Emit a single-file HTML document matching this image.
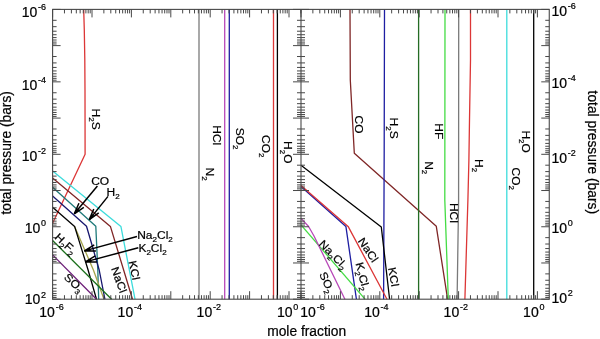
<!DOCTYPE html><html><head><meta charset="utf-8"><style>html,body{margin:0;padding:0;background:#fff;overflow:hidden}svg{display:block;filter:blur(0.3px)}</style></head><body><svg width="600" height="339" viewBox="0 0 600 339" font-family='"Liberation Sans", sans-serif' fill="#000">
<rect width="600" height="339" fill="#fff"/>
<polyline points="199.00,9.40 199.00,299.20" fill="none" stroke="#7a7a7a" stroke-width="1.3" stroke-linejoin="round"/>
<polyline points="224.70,9.40 224.70,299.20" fill="none" stroke="#b848b8" stroke-width="1.3" stroke-linejoin="round"/>
<polyline points="229.30,9.40 229.30,299.20" fill="none" stroke="#1e1ea2" stroke-width="1.3" stroke-linejoin="round"/>
<polyline points="273.50,9.40 273.50,299.20" fill="none" stroke="#dc3636" stroke-width="1.3" stroke-linejoin="round"/>
<polyline points="277.40,9.40 277.40,299.20" fill="none" stroke="#000" stroke-width="1.3" stroke-linejoin="round"/>
<polyline points="83.70,9.40 84.30,30.00 84.80,60.00 85.00,90.00 85.10,154.20 52.60,223.20" fill="none" stroke="#dc3636" stroke-width="1.3" stroke-linejoin="round"/>
<polyline points="52.60,170.90 120.90,226.40 135.00,299.20" fill="none" stroke="#3cdcdc" stroke-width="1.3" stroke-linejoin="round"/>
<polyline points="52.60,177.90 110.40,226.40 132.50,299.20" fill="none" stroke="#7f2626" stroke-width="1.3" stroke-linejoin="round"/>
<polyline points="52.60,187.30 95.80,226.20 97.80,270.00 98.70,299.20" fill="none" stroke="#1f7a7a" stroke-width="1.3" stroke-linejoin="round"/>
<polyline points="74.60,226.40 93.40,270.00 104.00,299.20" fill="none" stroke="#a4a44c" stroke-width="1.3" stroke-linejoin="round"/>
<polyline points="52.60,196.00 86.50,226.20 92.00,245.00 99.20,270.00 104.90,299.20" fill="none" stroke="#16166e" stroke-width="1.3" stroke-linejoin="round"/>
<polyline points="52.60,207.30 74.60,226.40 88.10,270.00 96.50,299.20" fill="none" stroke="#000" stroke-width="1.3" stroke-linejoin="round"/>
<polyline points="52.60,240.50 111.60,299.20" fill="none" stroke="#1a701a" stroke-width="1.3" stroke-linejoin="round"/>
<polyline points="52.60,254.90 96.50,299.20" fill="none" stroke="#6c1c78" stroke-width="1.3" stroke-linejoin="round"/>
<polyline points="350.00,9.40 350.30,80.00 354.30,153.30 436.30,226.30 447.60,299.20" fill="none" stroke="#7f2626" stroke-width="1.3" stroke-linejoin="round"/>
<polyline points="384.50,9.40 384.20,150.00 383.60,299.20" fill="none" stroke="#1e1ea2" stroke-width="1.3" stroke-linejoin="round"/>
<polyline points="418.60,9.40 418.60,299.20" fill="none" stroke="#246c24" stroke-width="1.3" stroke-linejoin="round"/>
<polyline points="445.00,9.40 444.80,200.00 448.30,299.20" fill="none" stroke="#44dc44" stroke-width="1.3" stroke-linejoin="round"/>
<polyline points="458.70,9.40 458.60,200.00 457.10,299.20" fill="none" stroke="#7a7a7a" stroke-width="1.3" stroke-linejoin="round"/>
<polyline points="470.50,9.40 470.50,60.00 469.50,120.00 468.90,160.00 467.90,200.00 464.90,299.20" fill="none" stroke="#dc3636" stroke-width="1.3" stroke-linejoin="round"/>
<polyline points="506.80,9.40 506.80,299.20" fill="none" stroke="#3cdcdc" stroke-width="1.3" stroke-linejoin="round"/>
<polyline points="533.70,9.40 533.70,299.20" fill="none" stroke="#000" stroke-width="1.3" stroke-linejoin="round"/>
<polyline points="301.00,165.30 381.30,227.00 389.60,299.20" fill="none" stroke="#000" stroke-width="1.3" stroke-linejoin="round"/>
<polyline points="301.00,186.60 345.90,226.40 356.40,299.20" fill="none" stroke="#1e1ea2" stroke-width="1.3" stroke-linejoin="round"/>
<polyline points="301.00,185.40 348.10,226.40 387.00,299.20" fill="none" stroke="#dc3636" stroke-width="1.3" stroke-linejoin="round"/>
<polyline points="301.00,224.80 365.00,299.20" fill="none" stroke="#44dc44" stroke-width="1.3" stroke-linejoin="round"/>
<polyline points="301.00,218.40 308.60,226.50 314.00,236.00 344.90,299.20" fill="none" stroke="#b848b8" stroke-width="1.3" stroke-linejoin="round"/>
<line x1="97.40" y1="186.00" x2="74.30" y2="213.80" stroke="#000" stroke-width="1.5"/>
<line x1="74.30" y1="213.80" x2="78.93" y2="203.27" stroke="#000" stroke-width="1.5"/>
<line x1="74.30" y1="213.80" x2="83.80" y2="207.32" stroke="#000" stroke-width="1.5"/>
<polygon points="74.30,213.80 76.84,208.01 79.53,210.24" fill="#000"/>
<line x1="108.00" y1="196.40" x2="89.30" y2="219.60" stroke="#000" stroke-width="1.5"/>
<line x1="89.30" y1="219.60" x2="93.77" y2="209.00" stroke="#000" stroke-width="1.5"/>
<line x1="89.30" y1="219.60" x2="98.71" y2="212.98" stroke="#000" stroke-width="1.5"/>
<polygon points="89.30,219.60 91.76,213.77 94.47,215.96" fill="#000"/>
<line x1="137.00" y1="236.50" x2="84.40" y2="250.90" stroke="#000" stroke-width="1.5"/>
<line x1="84.40" y1="250.90" x2="94.23" y2="244.92" stroke="#000" stroke-width="1.5"/>
<line x1="84.40" y1="250.90" x2="95.90" y2="251.04" stroke="#000" stroke-width="1.5"/>
<polygon points="84.40,250.90 89.80,247.61 90.72,250.98" fill="#000"/>
<line x1="138.30" y1="247.70" x2="85.40" y2="261.90" stroke="#000" stroke-width="1.5"/>
<line x1="85.40" y1="261.90" x2="95.25" y2="255.97" stroke="#000" stroke-width="1.5"/>
<line x1="85.40" y1="261.90" x2="96.90" y2="262.10" stroke="#000" stroke-width="1.5"/>
<polygon points="85.40,261.90 90.82,258.64 91.72,262.01" fill="#000"/>
<line x1="52.60" y1="299.20" x2="52.60" y2="291.20" stroke="#484848" stroke-width="1"/>
<line x1="52.60" y1="9.40" x2="52.60" y2="17.40" stroke="#484848" stroke-width="1"/>
<line x1="64.46" y1="299.20" x2="64.46" y2="295.20" stroke="#484848" stroke-width="1"/>
<line x1="64.46" y1="9.40" x2="64.46" y2="13.40" stroke="#484848" stroke-width="1"/>
<line x1="71.40" y1="299.20" x2="71.40" y2="295.20" stroke="#484848" stroke-width="1"/>
<line x1="71.40" y1="9.40" x2="71.40" y2="13.40" stroke="#484848" stroke-width="1"/>
<line x1="76.32" y1="299.20" x2="76.32" y2="295.20" stroke="#484848" stroke-width="1"/>
<line x1="76.32" y1="9.40" x2="76.32" y2="13.40" stroke="#484848" stroke-width="1"/>
<line x1="80.14" y1="299.20" x2="80.14" y2="295.20" stroke="#484848" stroke-width="1"/>
<line x1="80.14" y1="9.40" x2="80.14" y2="13.40" stroke="#484848" stroke-width="1"/>
<line x1="83.26" y1="299.20" x2="83.26" y2="295.20" stroke="#484848" stroke-width="1"/>
<line x1="83.26" y1="9.40" x2="83.26" y2="13.40" stroke="#484848" stroke-width="1"/>
<line x1="85.90" y1="299.20" x2="85.90" y2="295.20" stroke="#484848" stroke-width="1"/>
<line x1="85.90" y1="9.40" x2="85.90" y2="13.40" stroke="#484848" stroke-width="1"/>
<line x1="88.18" y1="299.20" x2="88.18" y2="295.20" stroke="#484848" stroke-width="1"/>
<line x1="88.18" y1="9.40" x2="88.18" y2="13.40" stroke="#484848" stroke-width="1"/>
<line x1="90.20" y1="299.20" x2="90.20" y2="295.20" stroke="#484848" stroke-width="1"/>
<line x1="90.20" y1="9.40" x2="90.20" y2="13.40" stroke="#484848" stroke-width="1"/>
<line x1="92.00" y1="299.20" x2="92.00" y2="291.20" stroke="#484848" stroke-width="1"/>
<line x1="92.00" y1="9.40" x2="92.00" y2="17.40" stroke="#484848" stroke-width="1"/>
<line x1="103.86" y1="299.20" x2="103.86" y2="295.20" stroke="#484848" stroke-width="1"/>
<line x1="103.86" y1="9.40" x2="103.86" y2="13.40" stroke="#484848" stroke-width="1"/>
<line x1="110.80" y1="299.20" x2="110.80" y2="295.20" stroke="#484848" stroke-width="1"/>
<line x1="110.80" y1="9.40" x2="110.80" y2="13.40" stroke="#484848" stroke-width="1"/>
<line x1="115.72" y1="299.20" x2="115.72" y2="295.20" stroke="#484848" stroke-width="1"/>
<line x1="115.72" y1="9.40" x2="115.72" y2="13.40" stroke="#484848" stroke-width="1"/>
<line x1="119.54" y1="299.20" x2="119.54" y2="295.20" stroke="#484848" stroke-width="1"/>
<line x1="119.54" y1="9.40" x2="119.54" y2="13.40" stroke="#484848" stroke-width="1"/>
<line x1="122.66" y1="299.20" x2="122.66" y2="295.20" stroke="#484848" stroke-width="1"/>
<line x1="122.66" y1="9.40" x2="122.66" y2="13.40" stroke="#484848" stroke-width="1"/>
<line x1="125.30" y1="299.20" x2="125.30" y2="295.20" stroke="#484848" stroke-width="1"/>
<line x1="125.30" y1="9.40" x2="125.30" y2="13.40" stroke="#484848" stroke-width="1"/>
<line x1="127.58" y1="299.20" x2="127.58" y2="295.20" stroke="#484848" stroke-width="1"/>
<line x1="127.58" y1="9.40" x2="127.58" y2="13.40" stroke="#484848" stroke-width="1"/>
<line x1="129.60" y1="299.20" x2="129.60" y2="295.20" stroke="#484848" stroke-width="1"/>
<line x1="129.60" y1="9.40" x2="129.60" y2="13.40" stroke="#484848" stroke-width="1"/>
<line x1="131.40" y1="299.20" x2="131.40" y2="291.20" stroke="#484848" stroke-width="1"/>
<line x1="131.40" y1="9.40" x2="131.40" y2="17.40" stroke="#484848" stroke-width="1"/>
<line x1="143.26" y1="299.20" x2="143.26" y2="295.20" stroke="#484848" stroke-width="1"/>
<line x1="143.26" y1="9.40" x2="143.26" y2="13.40" stroke="#484848" stroke-width="1"/>
<line x1="150.20" y1="299.20" x2="150.20" y2="295.20" stroke="#484848" stroke-width="1"/>
<line x1="150.20" y1="9.40" x2="150.20" y2="13.40" stroke="#484848" stroke-width="1"/>
<line x1="155.12" y1="299.20" x2="155.12" y2="295.20" stroke="#484848" stroke-width="1"/>
<line x1="155.12" y1="9.40" x2="155.12" y2="13.40" stroke="#484848" stroke-width="1"/>
<line x1="158.94" y1="299.20" x2="158.94" y2="295.20" stroke="#484848" stroke-width="1"/>
<line x1="158.94" y1="9.40" x2="158.94" y2="13.40" stroke="#484848" stroke-width="1"/>
<line x1="162.06" y1="299.20" x2="162.06" y2="295.20" stroke="#484848" stroke-width="1"/>
<line x1="162.06" y1="9.40" x2="162.06" y2="13.40" stroke="#484848" stroke-width="1"/>
<line x1="164.70" y1="299.20" x2="164.70" y2="295.20" stroke="#484848" stroke-width="1"/>
<line x1="164.70" y1="9.40" x2="164.70" y2="13.40" stroke="#484848" stroke-width="1"/>
<line x1="166.98" y1="299.20" x2="166.98" y2="295.20" stroke="#484848" stroke-width="1"/>
<line x1="166.98" y1="9.40" x2="166.98" y2="13.40" stroke="#484848" stroke-width="1"/>
<line x1="169.00" y1="299.20" x2="169.00" y2="295.20" stroke="#484848" stroke-width="1"/>
<line x1="169.00" y1="9.40" x2="169.00" y2="13.40" stroke="#484848" stroke-width="1"/>
<line x1="170.80" y1="299.20" x2="170.80" y2="291.20" stroke="#484848" stroke-width="1"/>
<line x1="170.80" y1="9.40" x2="170.80" y2="17.40" stroke="#484848" stroke-width="1"/>
<line x1="182.66" y1="299.20" x2="182.66" y2="295.20" stroke="#484848" stroke-width="1"/>
<line x1="182.66" y1="9.40" x2="182.66" y2="13.40" stroke="#484848" stroke-width="1"/>
<line x1="189.60" y1="299.20" x2="189.60" y2="295.20" stroke="#484848" stroke-width="1"/>
<line x1="189.60" y1="9.40" x2="189.60" y2="13.40" stroke="#484848" stroke-width="1"/>
<line x1="194.52" y1="299.20" x2="194.52" y2="295.20" stroke="#484848" stroke-width="1"/>
<line x1="194.52" y1="9.40" x2="194.52" y2="13.40" stroke="#484848" stroke-width="1"/>
<line x1="198.34" y1="299.20" x2="198.34" y2="295.20" stroke="#484848" stroke-width="1"/>
<line x1="198.34" y1="9.40" x2="198.34" y2="13.40" stroke="#484848" stroke-width="1"/>
<line x1="201.46" y1="299.20" x2="201.46" y2="295.20" stroke="#484848" stroke-width="1"/>
<line x1="201.46" y1="9.40" x2="201.46" y2="13.40" stroke="#484848" stroke-width="1"/>
<line x1="204.10" y1="299.20" x2="204.10" y2="295.20" stroke="#484848" stroke-width="1"/>
<line x1="204.10" y1="9.40" x2="204.10" y2="13.40" stroke="#484848" stroke-width="1"/>
<line x1="206.38" y1="299.20" x2="206.38" y2="295.20" stroke="#484848" stroke-width="1"/>
<line x1="206.38" y1="9.40" x2="206.38" y2="13.40" stroke="#484848" stroke-width="1"/>
<line x1="208.40" y1="299.20" x2="208.40" y2="295.20" stroke="#484848" stroke-width="1"/>
<line x1="208.40" y1="9.40" x2="208.40" y2="13.40" stroke="#484848" stroke-width="1"/>
<line x1="210.20" y1="299.20" x2="210.20" y2="291.20" stroke="#484848" stroke-width="1"/>
<line x1="210.20" y1="9.40" x2="210.20" y2="17.40" stroke="#484848" stroke-width="1"/>
<line x1="222.06" y1="299.20" x2="222.06" y2="295.20" stroke="#484848" stroke-width="1"/>
<line x1="222.06" y1="9.40" x2="222.06" y2="13.40" stroke="#484848" stroke-width="1"/>
<line x1="229.00" y1="299.20" x2="229.00" y2="295.20" stroke="#484848" stroke-width="1"/>
<line x1="229.00" y1="9.40" x2="229.00" y2="13.40" stroke="#484848" stroke-width="1"/>
<line x1="233.92" y1="299.20" x2="233.92" y2="295.20" stroke="#484848" stroke-width="1"/>
<line x1="233.92" y1="9.40" x2="233.92" y2="13.40" stroke="#484848" stroke-width="1"/>
<line x1="237.74" y1="299.20" x2="237.74" y2="295.20" stroke="#484848" stroke-width="1"/>
<line x1="237.74" y1="9.40" x2="237.74" y2="13.40" stroke="#484848" stroke-width="1"/>
<line x1="240.86" y1="299.20" x2="240.86" y2="295.20" stroke="#484848" stroke-width="1"/>
<line x1="240.86" y1="9.40" x2="240.86" y2="13.40" stroke="#484848" stroke-width="1"/>
<line x1="243.50" y1="299.20" x2="243.50" y2="295.20" stroke="#484848" stroke-width="1"/>
<line x1="243.50" y1="9.40" x2="243.50" y2="13.40" stroke="#484848" stroke-width="1"/>
<line x1="245.78" y1="299.20" x2="245.78" y2="295.20" stroke="#484848" stroke-width="1"/>
<line x1="245.78" y1="9.40" x2="245.78" y2="13.40" stroke="#484848" stroke-width="1"/>
<line x1="247.80" y1="299.20" x2="247.80" y2="295.20" stroke="#484848" stroke-width="1"/>
<line x1="247.80" y1="9.40" x2="247.80" y2="13.40" stroke="#484848" stroke-width="1"/>
<line x1="249.60" y1="299.20" x2="249.60" y2="291.20" stroke="#484848" stroke-width="1"/>
<line x1="249.60" y1="9.40" x2="249.60" y2="17.40" stroke="#484848" stroke-width="1"/>
<line x1="261.46" y1="299.20" x2="261.46" y2="295.20" stroke="#484848" stroke-width="1"/>
<line x1="261.46" y1="9.40" x2="261.46" y2="13.40" stroke="#484848" stroke-width="1"/>
<line x1="268.40" y1="299.20" x2="268.40" y2="295.20" stroke="#484848" stroke-width="1"/>
<line x1="268.40" y1="9.40" x2="268.40" y2="13.40" stroke="#484848" stroke-width="1"/>
<line x1="273.32" y1="299.20" x2="273.32" y2="295.20" stroke="#484848" stroke-width="1"/>
<line x1="273.32" y1="9.40" x2="273.32" y2="13.40" stroke="#484848" stroke-width="1"/>
<line x1="277.14" y1="299.20" x2="277.14" y2="295.20" stroke="#484848" stroke-width="1"/>
<line x1="277.14" y1="9.40" x2="277.14" y2="13.40" stroke="#484848" stroke-width="1"/>
<line x1="280.26" y1="299.20" x2="280.26" y2="295.20" stroke="#484848" stroke-width="1"/>
<line x1="280.26" y1="9.40" x2="280.26" y2="13.40" stroke="#484848" stroke-width="1"/>
<line x1="282.90" y1="299.20" x2="282.90" y2="295.20" stroke="#484848" stroke-width="1"/>
<line x1="282.90" y1="9.40" x2="282.90" y2="13.40" stroke="#484848" stroke-width="1"/>
<line x1="285.18" y1="299.20" x2="285.18" y2="295.20" stroke="#484848" stroke-width="1"/>
<line x1="285.18" y1="9.40" x2="285.18" y2="13.40" stroke="#484848" stroke-width="1"/>
<line x1="287.20" y1="299.20" x2="287.20" y2="295.20" stroke="#484848" stroke-width="1"/>
<line x1="287.20" y1="9.40" x2="287.20" y2="13.40" stroke="#484848" stroke-width="1"/>
<line x1="289.00" y1="299.20" x2="289.00" y2="291.20" stroke="#484848" stroke-width="1"/>
<line x1="289.00" y1="9.40" x2="289.00" y2="17.40" stroke="#484848" stroke-width="1"/>
<line x1="300.86" y1="299.20" x2="300.86" y2="295.20" stroke="#484848" stroke-width="1"/>
<line x1="300.86" y1="9.40" x2="300.86" y2="13.40" stroke="#484848" stroke-width="1"/>
<line x1="301.00" y1="299.20" x2="301.00" y2="291.20" stroke="#484848" stroke-width="1"/>
<line x1="301.00" y1="9.40" x2="301.00" y2="17.40" stroke="#484848" stroke-width="1"/>
<line x1="312.86" y1="299.20" x2="312.86" y2="295.20" stroke="#484848" stroke-width="1"/>
<line x1="312.86" y1="9.40" x2="312.86" y2="13.40" stroke="#484848" stroke-width="1"/>
<line x1="319.80" y1="299.20" x2="319.80" y2="295.20" stroke="#484848" stroke-width="1"/>
<line x1="319.80" y1="9.40" x2="319.80" y2="13.40" stroke="#484848" stroke-width="1"/>
<line x1="324.72" y1="299.20" x2="324.72" y2="295.20" stroke="#484848" stroke-width="1"/>
<line x1="324.72" y1="9.40" x2="324.72" y2="13.40" stroke="#484848" stroke-width="1"/>
<line x1="328.54" y1="299.20" x2="328.54" y2="295.20" stroke="#484848" stroke-width="1"/>
<line x1="328.54" y1="9.40" x2="328.54" y2="13.40" stroke="#484848" stroke-width="1"/>
<line x1="331.66" y1="299.20" x2="331.66" y2="295.20" stroke="#484848" stroke-width="1"/>
<line x1="331.66" y1="9.40" x2="331.66" y2="13.40" stroke="#484848" stroke-width="1"/>
<line x1="334.30" y1="299.20" x2="334.30" y2="295.20" stroke="#484848" stroke-width="1"/>
<line x1="334.30" y1="9.40" x2="334.30" y2="13.40" stroke="#484848" stroke-width="1"/>
<line x1="336.58" y1="299.20" x2="336.58" y2="295.20" stroke="#484848" stroke-width="1"/>
<line x1="336.58" y1="9.40" x2="336.58" y2="13.40" stroke="#484848" stroke-width="1"/>
<line x1="338.60" y1="299.20" x2="338.60" y2="295.20" stroke="#484848" stroke-width="1"/>
<line x1="338.60" y1="9.40" x2="338.60" y2="13.40" stroke="#484848" stroke-width="1"/>
<line x1="340.40" y1="299.20" x2="340.40" y2="291.20" stroke="#484848" stroke-width="1"/>
<line x1="340.40" y1="9.40" x2="340.40" y2="17.40" stroke="#484848" stroke-width="1"/>
<line x1="352.26" y1="299.20" x2="352.26" y2="295.20" stroke="#484848" stroke-width="1"/>
<line x1="352.26" y1="9.40" x2="352.26" y2="13.40" stroke="#484848" stroke-width="1"/>
<line x1="359.20" y1="299.20" x2="359.20" y2="295.20" stroke="#484848" stroke-width="1"/>
<line x1="359.20" y1="9.40" x2="359.20" y2="13.40" stroke="#484848" stroke-width="1"/>
<line x1="364.12" y1="299.20" x2="364.12" y2="295.20" stroke="#484848" stroke-width="1"/>
<line x1="364.12" y1="9.40" x2="364.12" y2="13.40" stroke="#484848" stroke-width="1"/>
<line x1="367.94" y1="299.20" x2="367.94" y2="295.20" stroke="#484848" stroke-width="1"/>
<line x1="367.94" y1="9.40" x2="367.94" y2="13.40" stroke="#484848" stroke-width="1"/>
<line x1="371.06" y1="299.20" x2="371.06" y2="295.20" stroke="#484848" stroke-width="1"/>
<line x1="371.06" y1="9.40" x2="371.06" y2="13.40" stroke="#484848" stroke-width="1"/>
<line x1="373.70" y1="299.20" x2="373.70" y2="295.20" stroke="#484848" stroke-width="1"/>
<line x1="373.70" y1="9.40" x2="373.70" y2="13.40" stroke="#484848" stroke-width="1"/>
<line x1="375.98" y1="299.20" x2="375.98" y2="295.20" stroke="#484848" stroke-width="1"/>
<line x1="375.98" y1="9.40" x2="375.98" y2="13.40" stroke="#484848" stroke-width="1"/>
<line x1="378.00" y1="299.20" x2="378.00" y2="295.20" stroke="#484848" stroke-width="1"/>
<line x1="378.00" y1="9.40" x2="378.00" y2="13.40" stroke="#484848" stroke-width="1"/>
<line x1="379.80" y1="299.20" x2="379.80" y2="291.20" stroke="#484848" stroke-width="1"/>
<line x1="379.80" y1="9.40" x2="379.80" y2="17.40" stroke="#484848" stroke-width="1"/>
<line x1="391.66" y1="299.20" x2="391.66" y2="295.20" stroke="#484848" stroke-width="1"/>
<line x1="391.66" y1="9.40" x2="391.66" y2="13.40" stroke="#484848" stroke-width="1"/>
<line x1="398.60" y1="299.20" x2="398.60" y2="295.20" stroke="#484848" stroke-width="1"/>
<line x1="398.60" y1="9.40" x2="398.60" y2="13.40" stroke="#484848" stroke-width="1"/>
<line x1="403.52" y1="299.20" x2="403.52" y2="295.20" stroke="#484848" stroke-width="1"/>
<line x1="403.52" y1="9.40" x2="403.52" y2="13.40" stroke="#484848" stroke-width="1"/>
<line x1="407.34" y1="299.20" x2="407.34" y2="295.20" stroke="#484848" stroke-width="1"/>
<line x1="407.34" y1="9.40" x2="407.34" y2="13.40" stroke="#484848" stroke-width="1"/>
<line x1="410.46" y1="299.20" x2="410.46" y2="295.20" stroke="#484848" stroke-width="1"/>
<line x1="410.46" y1="9.40" x2="410.46" y2="13.40" stroke="#484848" stroke-width="1"/>
<line x1="413.10" y1="299.20" x2="413.10" y2="295.20" stroke="#484848" stroke-width="1"/>
<line x1="413.10" y1="9.40" x2="413.10" y2="13.40" stroke="#484848" stroke-width="1"/>
<line x1="415.38" y1="299.20" x2="415.38" y2="295.20" stroke="#484848" stroke-width="1"/>
<line x1="415.38" y1="9.40" x2="415.38" y2="13.40" stroke="#484848" stroke-width="1"/>
<line x1="417.40" y1="299.20" x2="417.40" y2="295.20" stroke="#484848" stroke-width="1"/>
<line x1="417.40" y1="9.40" x2="417.40" y2="13.40" stroke="#484848" stroke-width="1"/>
<line x1="419.20" y1="299.20" x2="419.20" y2="291.20" stroke="#484848" stroke-width="1"/>
<line x1="419.20" y1="9.40" x2="419.20" y2="17.40" stroke="#484848" stroke-width="1"/>
<line x1="431.06" y1="299.20" x2="431.06" y2="295.20" stroke="#484848" stroke-width="1"/>
<line x1="431.06" y1="9.40" x2="431.06" y2="13.40" stroke="#484848" stroke-width="1"/>
<line x1="438.00" y1="299.20" x2="438.00" y2="295.20" stroke="#484848" stroke-width="1"/>
<line x1="438.00" y1="9.40" x2="438.00" y2="13.40" stroke="#484848" stroke-width="1"/>
<line x1="442.92" y1="299.20" x2="442.92" y2="295.20" stroke="#484848" stroke-width="1"/>
<line x1="442.92" y1="9.40" x2="442.92" y2="13.40" stroke="#484848" stroke-width="1"/>
<line x1="446.74" y1="299.20" x2="446.74" y2="295.20" stroke="#484848" stroke-width="1"/>
<line x1="446.74" y1="9.40" x2="446.74" y2="13.40" stroke="#484848" stroke-width="1"/>
<line x1="449.86" y1="299.20" x2="449.86" y2="295.20" stroke="#484848" stroke-width="1"/>
<line x1="449.86" y1="9.40" x2="449.86" y2="13.40" stroke="#484848" stroke-width="1"/>
<line x1="452.50" y1="299.20" x2="452.50" y2="295.20" stroke="#484848" stroke-width="1"/>
<line x1="452.50" y1="9.40" x2="452.50" y2="13.40" stroke="#484848" stroke-width="1"/>
<line x1="454.78" y1="299.20" x2="454.78" y2="295.20" stroke="#484848" stroke-width="1"/>
<line x1="454.78" y1="9.40" x2="454.78" y2="13.40" stroke="#484848" stroke-width="1"/>
<line x1="456.80" y1="299.20" x2="456.80" y2="295.20" stroke="#484848" stroke-width="1"/>
<line x1="456.80" y1="9.40" x2="456.80" y2="13.40" stroke="#484848" stroke-width="1"/>
<line x1="458.60" y1="299.20" x2="458.60" y2="291.20" stroke="#484848" stroke-width="1"/>
<line x1="458.60" y1="9.40" x2="458.60" y2="17.40" stroke="#484848" stroke-width="1"/>
<line x1="470.46" y1="299.20" x2="470.46" y2="295.20" stroke="#484848" stroke-width="1"/>
<line x1="470.46" y1="9.40" x2="470.46" y2="13.40" stroke="#484848" stroke-width="1"/>
<line x1="477.40" y1="299.20" x2="477.40" y2="295.20" stroke="#484848" stroke-width="1"/>
<line x1="477.40" y1="9.40" x2="477.40" y2="13.40" stroke="#484848" stroke-width="1"/>
<line x1="482.32" y1="299.20" x2="482.32" y2="295.20" stroke="#484848" stroke-width="1"/>
<line x1="482.32" y1="9.40" x2="482.32" y2="13.40" stroke="#484848" stroke-width="1"/>
<line x1="486.14" y1="299.20" x2="486.14" y2="295.20" stroke="#484848" stroke-width="1"/>
<line x1="486.14" y1="9.40" x2="486.14" y2="13.40" stroke="#484848" stroke-width="1"/>
<line x1="489.26" y1="299.20" x2="489.26" y2="295.20" stroke="#484848" stroke-width="1"/>
<line x1="489.26" y1="9.40" x2="489.26" y2="13.40" stroke="#484848" stroke-width="1"/>
<line x1="491.90" y1="299.20" x2="491.90" y2="295.20" stroke="#484848" stroke-width="1"/>
<line x1="491.90" y1="9.40" x2="491.90" y2="13.40" stroke="#484848" stroke-width="1"/>
<line x1="494.18" y1="299.20" x2="494.18" y2="295.20" stroke="#484848" stroke-width="1"/>
<line x1="494.18" y1="9.40" x2="494.18" y2="13.40" stroke="#484848" stroke-width="1"/>
<line x1="496.20" y1="299.20" x2="496.20" y2="295.20" stroke="#484848" stroke-width="1"/>
<line x1="496.20" y1="9.40" x2="496.20" y2="13.40" stroke="#484848" stroke-width="1"/>
<line x1="498.00" y1="299.20" x2="498.00" y2="291.20" stroke="#484848" stroke-width="1"/>
<line x1="498.00" y1="9.40" x2="498.00" y2="17.40" stroke="#484848" stroke-width="1"/>
<line x1="509.86" y1="299.20" x2="509.86" y2="295.20" stroke="#484848" stroke-width="1"/>
<line x1="509.86" y1="9.40" x2="509.86" y2="13.40" stroke="#484848" stroke-width="1"/>
<line x1="516.80" y1="299.20" x2="516.80" y2="295.20" stroke="#484848" stroke-width="1"/>
<line x1="516.80" y1="9.40" x2="516.80" y2="13.40" stroke="#484848" stroke-width="1"/>
<line x1="521.72" y1="299.20" x2="521.72" y2="295.20" stroke="#484848" stroke-width="1"/>
<line x1="521.72" y1="9.40" x2="521.72" y2="13.40" stroke="#484848" stroke-width="1"/>
<line x1="525.54" y1="299.20" x2="525.54" y2="295.20" stroke="#484848" stroke-width="1"/>
<line x1="525.54" y1="9.40" x2="525.54" y2="13.40" stroke="#484848" stroke-width="1"/>
<line x1="528.66" y1="299.20" x2="528.66" y2="295.20" stroke="#484848" stroke-width="1"/>
<line x1="528.66" y1="9.40" x2="528.66" y2="13.40" stroke="#484848" stroke-width="1"/>
<line x1="531.30" y1="299.20" x2="531.30" y2="295.20" stroke="#484848" stroke-width="1"/>
<line x1="531.30" y1="9.40" x2="531.30" y2="13.40" stroke="#484848" stroke-width="1"/>
<line x1="533.58" y1="299.20" x2="533.58" y2="295.20" stroke="#484848" stroke-width="1"/>
<line x1="533.58" y1="9.40" x2="533.58" y2="13.40" stroke="#484848" stroke-width="1"/>
<line x1="535.60" y1="299.20" x2="535.60" y2="295.20" stroke="#484848" stroke-width="1"/>
<line x1="535.60" y1="9.40" x2="535.60" y2="13.40" stroke="#484848" stroke-width="1"/>
<line x1="537.40" y1="299.20" x2="537.40" y2="291.20" stroke="#484848" stroke-width="1"/>
<line x1="537.40" y1="9.40" x2="537.40" y2="17.40" stroke="#484848" stroke-width="1"/>
<line x1="52.60" y1="9.40" x2="60.60" y2="9.40" stroke="#484848" stroke-width="1"/>
<line x1="52.60" y1="20.30" x2="56.60" y2="20.30" stroke="#484848" stroke-width="1"/>
<line x1="52.60" y1="26.68" x2="56.60" y2="26.68" stroke="#484848" stroke-width="1"/>
<line x1="52.60" y1="31.21" x2="56.60" y2="31.21" stroke="#484848" stroke-width="1"/>
<line x1="52.60" y1="34.72" x2="56.60" y2="34.72" stroke="#484848" stroke-width="1"/>
<line x1="52.60" y1="37.59" x2="56.60" y2="37.59" stroke="#484848" stroke-width="1"/>
<line x1="52.60" y1="40.01" x2="56.60" y2="40.01" stroke="#484848" stroke-width="1"/>
<line x1="52.60" y1="42.11" x2="56.60" y2="42.11" stroke="#484848" stroke-width="1"/>
<line x1="52.60" y1="43.97" x2="56.60" y2="43.97" stroke="#484848" stroke-width="1"/>
<line x1="52.60" y1="45.62" x2="60.60" y2="45.62" stroke="#484848" stroke-width="1"/>
<line x1="52.60" y1="56.53" x2="56.60" y2="56.53" stroke="#484848" stroke-width="1"/>
<line x1="52.60" y1="62.91" x2="56.60" y2="62.91" stroke="#484848" stroke-width="1"/>
<line x1="52.60" y1="67.43" x2="56.60" y2="67.43" stroke="#484848" stroke-width="1"/>
<line x1="52.60" y1="70.95" x2="56.60" y2="70.95" stroke="#484848" stroke-width="1"/>
<line x1="52.60" y1="73.81" x2="56.60" y2="73.81" stroke="#484848" stroke-width="1"/>
<line x1="52.60" y1="76.24" x2="56.60" y2="76.24" stroke="#484848" stroke-width="1"/>
<line x1="52.60" y1="78.34" x2="56.60" y2="78.34" stroke="#484848" stroke-width="1"/>
<line x1="52.60" y1="80.19" x2="56.60" y2="80.19" stroke="#484848" stroke-width="1"/>
<line x1="52.60" y1="81.85" x2="60.60" y2="81.85" stroke="#484848" stroke-width="1"/>
<line x1="52.60" y1="92.75" x2="56.60" y2="92.75" stroke="#484848" stroke-width="1"/>
<line x1="52.60" y1="99.13" x2="56.60" y2="99.13" stroke="#484848" stroke-width="1"/>
<line x1="52.60" y1="103.66" x2="56.60" y2="103.66" stroke="#484848" stroke-width="1"/>
<line x1="52.60" y1="107.17" x2="56.60" y2="107.17" stroke="#484848" stroke-width="1"/>
<line x1="52.60" y1="110.04" x2="56.60" y2="110.04" stroke="#484848" stroke-width="1"/>
<line x1="52.60" y1="112.46" x2="56.60" y2="112.46" stroke="#484848" stroke-width="1"/>
<line x1="52.60" y1="114.56" x2="56.60" y2="114.56" stroke="#484848" stroke-width="1"/>
<line x1="52.60" y1="116.42" x2="56.60" y2="116.42" stroke="#484848" stroke-width="1"/>
<line x1="52.60" y1="118.08" x2="60.60" y2="118.08" stroke="#484848" stroke-width="1"/>
<line x1="52.60" y1="128.98" x2="56.60" y2="128.98" stroke="#484848" stroke-width="1"/>
<line x1="52.60" y1="135.36" x2="56.60" y2="135.36" stroke="#484848" stroke-width="1"/>
<line x1="52.60" y1="139.88" x2="56.60" y2="139.88" stroke="#484848" stroke-width="1"/>
<line x1="52.60" y1="143.40" x2="56.60" y2="143.40" stroke="#484848" stroke-width="1"/>
<line x1="52.60" y1="146.26" x2="56.60" y2="146.26" stroke="#484848" stroke-width="1"/>
<line x1="52.60" y1="148.69" x2="56.60" y2="148.69" stroke="#484848" stroke-width="1"/>
<line x1="52.60" y1="150.79" x2="56.60" y2="150.79" stroke="#484848" stroke-width="1"/>
<line x1="52.60" y1="152.64" x2="56.60" y2="152.64" stroke="#484848" stroke-width="1"/>
<line x1="52.60" y1="154.30" x2="60.60" y2="154.30" stroke="#484848" stroke-width="1"/>
<line x1="52.60" y1="165.20" x2="56.60" y2="165.20" stroke="#484848" stroke-width="1"/>
<line x1="52.60" y1="171.58" x2="56.60" y2="171.58" stroke="#484848" stroke-width="1"/>
<line x1="52.60" y1="176.11" x2="56.60" y2="176.11" stroke="#484848" stroke-width="1"/>
<line x1="52.60" y1="179.62" x2="56.60" y2="179.62" stroke="#484848" stroke-width="1"/>
<line x1="52.60" y1="182.49" x2="56.60" y2="182.49" stroke="#484848" stroke-width="1"/>
<line x1="52.60" y1="184.91" x2="56.60" y2="184.91" stroke="#484848" stroke-width="1"/>
<line x1="52.60" y1="187.01" x2="56.60" y2="187.01" stroke="#484848" stroke-width="1"/>
<line x1="52.60" y1="188.87" x2="56.60" y2="188.87" stroke="#484848" stroke-width="1"/>
<line x1="52.60" y1="190.53" x2="60.60" y2="190.53" stroke="#484848" stroke-width="1"/>
<line x1="52.60" y1="201.43" x2="56.60" y2="201.43" stroke="#484848" stroke-width="1"/>
<line x1="52.60" y1="207.81" x2="56.60" y2="207.81" stroke="#484848" stroke-width="1"/>
<line x1="52.60" y1="212.33" x2="56.60" y2="212.33" stroke="#484848" stroke-width="1"/>
<line x1="52.60" y1="215.85" x2="56.60" y2="215.85" stroke="#484848" stroke-width="1"/>
<line x1="52.60" y1="218.71" x2="56.60" y2="218.71" stroke="#484848" stroke-width="1"/>
<line x1="52.60" y1="221.14" x2="56.60" y2="221.14" stroke="#484848" stroke-width="1"/>
<line x1="52.60" y1="223.24" x2="56.60" y2="223.24" stroke="#484848" stroke-width="1"/>
<line x1="52.60" y1="225.09" x2="56.60" y2="225.09" stroke="#484848" stroke-width="1"/>
<line x1="52.60" y1="226.75" x2="60.60" y2="226.75" stroke="#484848" stroke-width="1"/>
<line x1="52.60" y1="237.65" x2="56.60" y2="237.65" stroke="#484848" stroke-width="1"/>
<line x1="52.60" y1="244.03" x2="56.60" y2="244.03" stroke="#484848" stroke-width="1"/>
<line x1="52.60" y1="248.56" x2="56.60" y2="248.56" stroke="#484848" stroke-width="1"/>
<line x1="52.60" y1="252.07" x2="56.60" y2="252.07" stroke="#484848" stroke-width="1"/>
<line x1="52.60" y1="254.94" x2="56.60" y2="254.94" stroke="#484848" stroke-width="1"/>
<line x1="52.60" y1="257.36" x2="56.60" y2="257.36" stroke="#484848" stroke-width="1"/>
<line x1="52.60" y1="259.46" x2="56.60" y2="259.46" stroke="#484848" stroke-width="1"/>
<line x1="52.60" y1="261.32" x2="56.60" y2="261.32" stroke="#484848" stroke-width="1"/>
<line x1="52.60" y1="262.98" x2="60.60" y2="262.98" stroke="#484848" stroke-width="1"/>
<line x1="52.60" y1="273.88" x2="56.60" y2="273.88" stroke="#484848" stroke-width="1"/>
<line x1="52.60" y1="280.26" x2="56.60" y2="280.26" stroke="#484848" stroke-width="1"/>
<line x1="52.60" y1="284.78" x2="56.60" y2="284.78" stroke="#484848" stroke-width="1"/>
<line x1="52.60" y1="288.30" x2="56.60" y2="288.30" stroke="#484848" stroke-width="1"/>
<line x1="52.60" y1="291.16" x2="56.60" y2="291.16" stroke="#484848" stroke-width="1"/>
<line x1="52.60" y1="293.59" x2="56.60" y2="293.59" stroke="#484848" stroke-width="1"/>
<line x1="52.60" y1="295.69" x2="56.60" y2="295.69" stroke="#484848" stroke-width="1"/>
<line x1="52.60" y1="297.54" x2="56.60" y2="297.54" stroke="#484848" stroke-width="1"/>
<line x1="52.60" y1="299.20" x2="60.60" y2="299.20" stroke="#484848" stroke-width="1"/>
<line x1="301.00" y1="9.40" x2="309.00" y2="9.40" stroke="#484848" stroke-width="1"/>
<line x1="301.00" y1="9.40" x2="293.00" y2="9.40" stroke="#484848" stroke-width="1"/>
<line x1="301.00" y1="20.30" x2="305.00" y2="20.30" stroke="#484848" stroke-width="1"/>
<line x1="301.00" y1="20.30" x2="297.00" y2="20.30" stroke="#484848" stroke-width="1"/>
<line x1="301.00" y1="26.68" x2="305.00" y2="26.68" stroke="#484848" stroke-width="1"/>
<line x1="301.00" y1="26.68" x2="297.00" y2="26.68" stroke="#484848" stroke-width="1"/>
<line x1="301.00" y1="31.21" x2="305.00" y2="31.21" stroke="#484848" stroke-width="1"/>
<line x1="301.00" y1="31.21" x2="297.00" y2="31.21" stroke="#484848" stroke-width="1"/>
<line x1="301.00" y1="34.72" x2="305.00" y2="34.72" stroke="#484848" stroke-width="1"/>
<line x1="301.00" y1="34.72" x2="297.00" y2="34.72" stroke="#484848" stroke-width="1"/>
<line x1="301.00" y1="37.59" x2="305.00" y2="37.59" stroke="#484848" stroke-width="1"/>
<line x1="301.00" y1="37.59" x2="297.00" y2="37.59" stroke="#484848" stroke-width="1"/>
<line x1="301.00" y1="40.01" x2="305.00" y2="40.01" stroke="#484848" stroke-width="1"/>
<line x1="301.00" y1="40.01" x2="297.00" y2="40.01" stroke="#484848" stroke-width="1"/>
<line x1="301.00" y1="42.11" x2="305.00" y2="42.11" stroke="#484848" stroke-width="1"/>
<line x1="301.00" y1="42.11" x2="297.00" y2="42.11" stroke="#484848" stroke-width="1"/>
<line x1="301.00" y1="43.97" x2="305.00" y2="43.97" stroke="#484848" stroke-width="1"/>
<line x1="301.00" y1="43.97" x2="297.00" y2="43.97" stroke="#484848" stroke-width="1"/>
<line x1="301.00" y1="45.62" x2="309.00" y2="45.62" stroke="#484848" stroke-width="1"/>
<line x1="301.00" y1="45.62" x2="293.00" y2="45.62" stroke="#484848" stroke-width="1"/>
<line x1="301.00" y1="56.53" x2="305.00" y2="56.53" stroke="#484848" stroke-width="1"/>
<line x1="301.00" y1="56.53" x2="297.00" y2="56.53" stroke="#484848" stroke-width="1"/>
<line x1="301.00" y1="62.91" x2="305.00" y2="62.91" stroke="#484848" stroke-width="1"/>
<line x1="301.00" y1="62.91" x2="297.00" y2="62.91" stroke="#484848" stroke-width="1"/>
<line x1="301.00" y1="67.43" x2="305.00" y2="67.43" stroke="#484848" stroke-width="1"/>
<line x1="301.00" y1="67.43" x2="297.00" y2="67.43" stroke="#484848" stroke-width="1"/>
<line x1="301.00" y1="70.95" x2="305.00" y2="70.95" stroke="#484848" stroke-width="1"/>
<line x1="301.00" y1="70.95" x2="297.00" y2="70.95" stroke="#484848" stroke-width="1"/>
<line x1="301.00" y1="73.81" x2="305.00" y2="73.81" stroke="#484848" stroke-width="1"/>
<line x1="301.00" y1="73.81" x2="297.00" y2="73.81" stroke="#484848" stroke-width="1"/>
<line x1="301.00" y1="76.24" x2="305.00" y2="76.24" stroke="#484848" stroke-width="1"/>
<line x1="301.00" y1="76.24" x2="297.00" y2="76.24" stroke="#484848" stroke-width="1"/>
<line x1="301.00" y1="78.34" x2="305.00" y2="78.34" stroke="#484848" stroke-width="1"/>
<line x1="301.00" y1="78.34" x2="297.00" y2="78.34" stroke="#484848" stroke-width="1"/>
<line x1="301.00" y1="80.19" x2="305.00" y2="80.19" stroke="#484848" stroke-width="1"/>
<line x1="301.00" y1="80.19" x2="297.00" y2="80.19" stroke="#484848" stroke-width="1"/>
<line x1="301.00" y1="81.85" x2="309.00" y2="81.85" stroke="#484848" stroke-width="1"/>
<line x1="301.00" y1="81.85" x2="293.00" y2="81.85" stroke="#484848" stroke-width="1"/>
<line x1="301.00" y1="92.75" x2="305.00" y2="92.75" stroke="#484848" stroke-width="1"/>
<line x1="301.00" y1="92.75" x2="297.00" y2="92.75" stroke="#484848" stroke-width="1"/>
<line x1="301.00" y1="99.13" x2="305.00" y2="99.13" stroke="#484848" stroke-width="1"/>
<line x1="301.00" y1="99.13" x2="297.00" y2="99.13" stroke="#484848" stroke-width="1"/>
<line x1="301.00" y1="103.66" x2="305.00" y2="103.66" stroke="#484848" stroke-width="1"/>
<line x1="301.00" y1="103.66" x2="297.00" y2="103.66" stroke="#484848" stroke-width="1"/>
<line x1="301.00" y1="107.17" x2="305.00" y2="107.17" stroke="#484848" stroke-width="1"/>
<line x1="301.00" y1="107.17" x2="297.00" y2="107.17" stroke="#484848" stroke-width="1"/>
<line x1="301.00" y1="110.04" x2="305.00" y2="110.04" stroke="#484848" stroke-width="1"/>
<line x1="301.00" y1="110.04" x2="297.00" y2="110.04" stroke="#484848" stroke-width="1"/>
<line x1="301.00" y1="112.46" x2="305.00" y2="112.46" stroke="#484848" stroke-width="1"/>
<line x1="301.00" y1="112.46" x2="297.00" y2="112.46" stroke="#484848" stroke-width="1"/>
<line x1="301.00" y1="114.56" x2="305.00" y2="114.56" stroke="#484848" stroke-width="1"/>
<line x1="301.00" y1="114.56" x2="297.00" y2="114.56" stroke="#484848" stroke-width="1"/>
<line x1="301.00" y1="116.42" x2="305.00" y2="116.42" stroke="#484848" stroke-width="1"/>
<line x1="301.00" y1="116.42" x2="297.00" y2="116.42" stroke="#484848" stroke-width="1"/>
<line x1="301.00" y1="118.08" x2="309.00" y2="118.08" stroke="#484848" stroke-width="1"/>
<line x1="301.00" y1="118.08" x2="293.00" y2="118.08" stroke="#484848" stroke-width="1"/>
<line x1="301.00" y1="128.98" x2="305.00" y2="128.98" stroke="#484848" stroke-width="1"/>
<line x1="301.00" y1="128.98" x2="297.00" y2="128.98" stroke="#484848" stroke-width="1"/>
<line x1="301.00" y1="135.36" x2="305.00" y2="135.36" stroke="#484848" stroke-width="1"/>
<line x1="301.00" y1="135.36" x2="297.00" y2="135.36" stroke="#484848" stroke-width="1"/>
<line x1="301.00" y1="139.88" x2="305.00" y2="139.88" stroke="#484848" stroke-width="1"/>
<line x1="301.00" y1="139.88" x2="297.00" y2="139.88" stroke="#484848" stroke-width="1"/>
<line x1="301.00" y1="143.40" x2="305.00" y2="143.40" stroke="#484848" stroke-width="1"/>
<line x1="301.00" y1="143.40" x2="297.00" y2="143.40" stroke="#484848" stroke-width="1"/>
<line x1="301.00" y1="146.26" x2="305.00" y2="146.26" stroke="#484848" stroke-width="1"/>
<line x1="301.00" y1="146.26" x2="297.00" y2="146.26" stroke="#484848" stroke-width="1"/>
<line x1="301.00" y1="148.69" x2="305.00" y2="148.69" stroke="#484848" stroke-width="1"/>
<line x1="301.00" y1="148.69" x2="297.00" y2="148.69" stroke="#484848" stroke-width="1"/>
<line x1="301.00" y1="150.79" x2="305.00" y2="150.79" stroke="#484848" stroke-width="1"/>
<line x1="301.00" y1="150.79" x2="297.00" y2="150.79" stroke="#484848" stroke-width="1"/>
<line x1="301.00" y1="152.64" x2="305.00" y2="152.64" stroke="#484848" stroke-width="1"/>
<line x1="301.00" y1="152.64" x2="297.00" y2="152.64" stroke="#484848" stroke-width="1"/>
<line x1="301.00" y1="154.30" x2="309.00" y2="154.30" stroke="#484848" stroke-width="1"/>
<line x1="301.00" y1="154.30" x2="293.00" y2="154.30" stroke="#484848" stroke-width="1"/>
<line x1="301.00" y1="165.20" x2="305.00" y2="165.20" stroke="#484848" stroke-width="1"/>
<line x1="301.00" y1="165.20" x2="297.00" y2="165.20" stroke="#484848" stroke-width="1"/>
<line x1="301.00" y1="171.58" x2="305.00" y2="171.58" stroke="#484848" stroke-width="1"/>
<line x1="301.00" y1="171.58" x2="297.00" y2="171.58" stroke="#484848" stroke-width="1"/>
<line x1="301.00" y1="176.11" x2="305.00" y2="176.11" stroke="#484848" stroke-width="1"/>
<line x1="301.00" y1="176.11" x2="297.00" y2="176.11" stroke="#484848" stroke-width="1"/>
<line x1="301.00" y1="179.62" x2="305.00" y2="179.62" stroke="#484848" stroke-width="1"/>
<line x1="301.00" y1="179.62" x2="297.00" y2="179.62" stroke="#484848" stroke-width="1"/>
<line x1="301.00" y1="182.49" x2="305.00" y2="182.49" stroke="#484848" stroke-width="1"/>
<line x1="301.00" y1="182.49" x2="297.00" y2="182.49" stroke="#484848" stroke-width="1"/>
<line x1="301.00" y1="184.91" x2="305.00" y2="184.91" stroke="#484848" stroke-width="1"/>
<line x1="301.00" y1="184.91" x2="297.00" y2="184.91" stroke="#484848" stroke-width="1"/>
<line x1="301.00" y1="187.01" x2="305.00" y2="187.01" stroke="#484848" stroke-width="1"/>
<line x1="301.00" y1="187.01" x2="297.00" y2="187.01" stroke="#484848" stroke-width="1"/>
<line x1="301.00" y1="188.87" x2="305.00" y2="188.87" stroke="#484848" stroke-width="1"/>
<line x1="301.00" y1="188.87" x2="297.00" y2="188.87" stroke="#484848" stroke-width="1"/>
<line x1="301.00" y1="190.53" x2="309.00" y2="190.53" stroke="#484848" stroke-width="1"/>
<line x1="301.00" y1="190.53" x2="293.00" y2="190.53" stroke="#484848" stroke-width="1"/>
<line x1="301.00" y1="201.43" x2="305.00" y2="201.43" stroke="#484848" stroke-width="1"/>
<line x1="301.00" y1="201.43" x2="297.00" y2="201.43" stroke="#484848" stroke-width="1"/>
<line x1="301.00" y1="207.81" x2="305.00" y2="207.81" stroke="#484848" stroke-width="1"/>
<line x1="301.00" y1="207.81" x2="297.00" y2="207.81" stroke="#484848" stroke-width="1"/>
<line x1="301.00" y1="212.33" x2="305.00" y2="212.33" stroke="#484848" stroke-width="1"/>
<line x1="301.00" y1="212.33" x2="297.00" y2="212.33" stroke="#484848" stroke-width="1"/>
<line x1="301.00" y1="215.85" x2="305.00" y2="215.85" stroke="#484848" stroke-width="1"/>
<line x1="301.00" y1="215.85" x2="297.00" y2="215.85" stroke="#484848" stroke-width="1"/>
<line x1="301.00" y1="218.71" x2="305.00" y2="218.71" stroke="#484848" stroke-width="1"/>
<line x1="301.00" y1="218.71" x2="297.00" y2="218.71" stroke="#484848" stroke-width="1"/>
<line x1="301.00" y1="221.14" x2="305.00" y2="221.14" stroke="#484848" stroke-width="1"/>
<line x1="301.00" y1="221.14" x2="297.00" y2="221.14" stroke="#484848" stroke-width="1"/>
<line x1="301.00" y1="223.24" x2="305.00" y2="223.24" stroke="#484848" stroke-width="1"/>
<line x1="301.00" y1="223.24" x2="297.00" y2="223.24" stroke="#484848" stroke-width="1"/>
<line x1="301.00" y1="225.09" x2="305.00" y2="225.09" stroke="#484848" stroke-width="1"/>
<line x1="301.00" y1="225.09" x2="297.00" y2="225.09" stroke="#484848" stroke-width="1"/>
<line x1="301.00" y1="226.75" x2="309.00" y2="226.75" stroke="#484848" stroke-width="1"/>
<line x1="301.00" y1="226.75" x2="293.00" y2="226.75" stroke="#484848" stroke-width="1"/>
<line x1="301.00" y1="237.65" x2="305.00" y2="237.65" stroke="#484848" stroke-width="1"/>
<line x1="301.00" y1="237.65" x2="297.00" y2="237.65" stroke="#484848" stroke-width="1"/>
<line x1="301.00" y1="244.03" x2="305.00" y2="244.03" stroke="#484848" stroke-width="1"/>
<line x1="301.00" y1="244.03" x2="297.00" y2="244.03" stroke="#484848" stroke-width="1"/>
<line x1="301.00" y1="248.56" x2="305.00" y2="248.56" stroke="#484848" stroke-width="1"/>
<line x1="301.00" y1="248.56" x2="297.00" y2="248.56" stroke="#484848" stroke-width="1"/>
<line x1="301.00" y1="252.07" x2="305.00" y2="252.07" stroke="#484848" stroke-width="1"/>
<line x1="301.00" y1="252.07" x2="297.00" y2="252.07" stroke="#484848" stroke-width="1"/>
<line x1="301.00" y1="254.94" x2="305.00" y2="254.94" stroke="#484848" stroke-width="1"/>
<line x1="301.00" y1="254.94" x2="297.00" y2="254.94" stroke="#484848" stroke-width="1"/>
<line x1="301.00" y1="257.36" x2="305.00" y2="257.36" stroke="#484848" stroke-width="1"/>
<line x1="301.00" y1="257.36" x2="297.00" y2="257.36" stroke="#484848" stroke-width="1"/>
<line x1="301.00" y1="259.46" x2="305.00" y2="259.46" stroke="#484848" stroke-width="1"/>
<line x1="301.00" y1="259.46" x2="297.00" y2="259.46" stroke="#484848" stroke-width="1"/>
<line x1="301.00" y1="261.32" x2="305.00" y2="261.32" stroke="#484848" stroke-width="1"/>
<line x1="301.00" y1="261.32" x2="297.00" y2="261.32" stroke="#484848" stroke-width="1"/>
<line x1="301.00" y1="262.98" x2="309.00" y2="262.98" stroke="#484848" stroke-width="1"/>
<line x1="301.00" y1="262.98" x2="293.00" y2="262.98" stroke="#484848" stroke-width="1"/>
<line x1="301.00" y1="273.88" x2="305.00" y2="273.88" stroke="#484848" stroke-width="1"/>
<line x1="301.00" y1="273.88" x2="297.00" y2="273.88" stroke="#484848" stroke-width="1"/>
<line x1="301.00" y1="280.26" x2="305.00" y2="280.26" stroke="#484848" stroke-width="1"/>
<line x1="301.00" y1="280.26" x2="297.00" y2="280.26" stroke="#484848" stroke-width="1"/>
<line x1="301.00" y1="284.78" x2="305.00" y2="284.78" stroke="#484848" stroke-width="1"/>
<line x1="301.00" y1="284.78" x2="297.00" y2="284.78" stroke="#484848" stroke-width="1"/>
<line x1="301.00" y1="288.30" x2="305.00" y2="288.30" stroke="#484848" stroke-width="1"/>
<line x1="301.00" y1="288.30" x2="297.00" y2="288.30" stroke="#484848" stroke-width="1"/>
<line x1="301.00" y1="291.16" x2="305.00" y2="291.16" stroke="#484848" stroke-width="1"/>
<line x1="301.00" y1="291.16" x2="297.00" y2="291.16" stroke="#484848" stroke-width="1"/>
<line x1="301.00" y1="293.59" x2="305.00" y2="293.59" stroke="#484848" stroke-width="1"/>
<line x1="301.00" y1="293.59" x2="297.00" y2="293.59" stroke="#484848" stroke-width="1"/>
<line x1="301.00" y1="295.69" x2="305.00" y2="295.69" stroke="#484848" stroke-width="1"/>
<line x1="301.00" y1="295.69" x2="297.00" y2="295.69" stroke="#484848" stroke-width="1"/>
<line x1="301.00" y1="297.54" x2="305.00" y2="297.54" stroke="#484848" stroke-width="1"/>
<line x1="301.00" y1="297.54" x2="297.00" y2="297.54" stroke="#484848" stroke-width="1"/>
<line x1="301.00" y1="299.20" x2="309.00" y2="299.20" stroke="#484848" stroke-width="1"/>
<line x1="301.00" y1="299.20" x2="293.00" y2="299.20" stroke="#484848" stroke-width="1"/>
<line x1="549.26" y1="9.40" x2="541.26" y2="9.40" stroke="#484848" stroke-width="1"/>
<line x1="549.26" y1="20.30" x2="545.26" y2="20.30" stroke="#484848" stroke-width="1"/>
<line x1="549.26" y1="26.68" x2="545.26" y2="26.68" stroke="#484848" stroke-width="1"/>
<line x1="549.26" y1="31.21" x2="545.26" y2="31.21" stroke="#484848" stroke-width="1"/>
<line x1="549.26" y1="34.72" x2="545.26" y2="34.72" stroke="#484848" stroke-width="1"/>
<line x1="549.26" y1="37.59" x2="545.26" y2="37.59" stroke="#484848" stroke-width="1"/>
<line x1="549.26" y1="40.01" x2="545.26" y2="40.01" stroke="#484848" stroke-width="1"/>
<line x1="549.26" y1="42.11" x2="545.26" y2="42.11" stroke="#484848" stroke-width="1"/>
<line x1="549.26" y1="43.97" x2="545.26" y2="43.97" stroke="#484848" stroke-width="1"/>
<line x1="549.26" y1="45.62" x2="541.26" y2="45.62" stroke="#484848" stroke-width="1"/>
<line x1="549.26" y1="56.53" x2="545.26" y2="56.53" stroke="#484848" stroke-width="1"/>
<line x1="549.26" y1="62.91" x2="545.26" y2="62.91" stroke="#484848" stroke-width="1"/>
<line x1="549.26" y1="67.43" x2="545.26" y2="67.43" stroke="#484848" stroke-width="1"/>
<line x1="549.26" y1="70.95" x2="545.26" y2="70.95" stroke="#484848" stroke-width="1"/>
<line x1="549.26" y1="73.81" x2="545.26" y2="73.81" stroke="#484848" stroke-width="1"/>
<line x1="549.26" y1="76.24" x2="545.26" y2="76.24" stroke="#484848" stroke-width="1"/>
<line x1="549.26" y1="78.34" x2="545.26" y2="78.34" stroke="#484848" stroke-width="1"/>
<line x1="549.26" y1="80.19" x2="545.26" y2="80.19" stroke="#484848" stroke-width="1"/>
<line x1="549.26" y1="81.85" x2="541.26" y2="81.85" stroke="#484848" stroke-width="1"/>
<line x1="549.26" y1="92.75" x2="545.26" y2="92.75" stroke="#484848" stroke-width="1"/>
<line x1="549.26" y1="99.13" x2="545.26" y2="99.13" stroke="#484848" stroke-width="1"/>
<line x1="549.26" y1="103.66" x2="545.26" y2="103.66" stroke="#484848" stroke-width="1"/>
<line x1="549.26" y1="107.17" x2="545.26" y2="107.17" stroke="#484848" stroke-width="1"/>
<line x1="549.26" y1="110.04" x2="545.26" y2="110.04" stroke="#484848" stroke-width="1"/>
<line x1="549.26" y1="112.46" x2="545.26" y2="112.46" stroke="#484848" stroke-width="1"/>
<line x1="549.26" y1="114.56" x2="545.26" y2="114.56" stroke="#484848" stroke-width="1"/>
<line x1="549.26" y1="116.42" x2="545.26" y2="116.42" stroke="#484848" stroke-width="1"/>
<line x1="549.26" y1="118.08" x2="541.26" y2="118.08" stroke="#484848" stroke-width="1"/>
<line x1="549.26" y1="128.98" x2="545.26" y2="128.98" stroke="#484848" stroke-width="1"/>
<line x1="549.26" y1="135.36" x2="545.26" y2="135.36" stroke="#484848" stroke-width="1"/>
<line x1="549.26" y1="139.88" x2="545.26" y2="139.88" stroke="#484848" stroke-width="1"/>
<line x1="549.26" y1="143.40" x2="545.26" y2="143.40" stroke="#484848" stroke-width="1"/>
<line x1="549.26" y1="146.26" x2="545.26" y2="146.26" stroke="#484848" stroke-width="1"/>
<line x1="549.26" y1="148.69" x2="545.26" y2="148.69" stroke="#484848" stroke-width="1"/>
<line x1="549.26" y1="150.79" x2="545.26" y2="150.79" stroke="#484848" stroke-width="1"/>
<line x1="549.26" y1="152.64" x2="545.26" y2="152.64" stroke="#484848" stroke-width="1"/>
<line x1="549.26" y1="154.30" x2="541.26" y2="154.30" stroke="#484848" stroke-width="1"/>
<line x1="549.26" y1="165.20" x2="545.26" y2="165.20" stroke="#484848" stroke-width="1"/>
<line x1="549.26" y1="171.58" x2="545.26" y2="171.58" stroke="#484848" stroke-width="1"/>
<line x1="549.26" y1="176.11" x2="545.26" y2="176.11" stroke="#484848" stroke-width="1"/>
<line x1="549.26" y1="179.62" x2="545.26" y2="179.62" stroke="#484848" stroke-width="1"/>
<line x1="549.26" y1="182.49" x2="545.26" y2="182.49" stroke="#484848" stroke-width="1"/>
<line x1="549.26" y1="184.91" x2="545.26" y2="184.91" stroke="#484848" stroke-width="1"/>
<line x1="549.26" y1="187.01" x2="545.26" y2="187.01" stroke="#484848" stroke-width="1"/>
<line x1="549.26" y1="188.87" x2="545.26" y2="188.87" stroke="#484848" stroke-width="1"/>
<line x1="549.26" y1="190.53" x2="541.26" y2="190.53" stroke="#484848" stroke-width="1"/>
<line x1="549.26" y1="201.43" x2="545.26" y2="201.43" stroke="#484848" stroke-width="1"/>
<line x1="549.26" y1="207.81" x2="545.26" y2="207.81" stroke="#484848" stroke-width="1"/>
<line x1="549.26" y1="212.33" x2="545.26" y2="212.33" stroke="#484848" stroke-width="1"/>
<line x1="549.26" y1="215.85" x2="545.26" y2="215.85" stroke="#484848" stroke-width="1"/>
<line x1="549.26" y1="218.71" x2="545.26" y2="218.71" stroke="#484848" stroke-width="1"/>
<line x1="549.26" y1="221.14" x2="545.26" y2="221.14" stroke="#484848" stroke-width="1"/>
<line x1="549.26" y1="223.24" x2="545.26" y2="223.24" stroke="#484848" stroke-width="1"/>
<line x1="549.26" y1="225.09" x2="545.26" y2="225.09" stroke="#484848" stroke-width="1"/>
<line x1="549.26" y1="226.75" x2="541.26" y2="226.75" stroke="#484848" stroke-width="1"/>
<line x1="549.26" y1="237.65" x2="545.26" y2="237.65" stroke="#484848" stroke-width="1"/>
<line x1="549.26" y1="244.03" x2="545.26" y2="244.03" stroke="#484848" stroke-width="1"/>
<line x1="549.26" y1="248.56" x2="545.26" y2="248.56" stroke="#484848" stroke-width="1"/>
<line x1="549.26" y1="252.07" x2="545.26" y2="252.07" stroke="#484848" stroke-width="1"/>
<line x1="549.26" y1="254.94" x2="545.26" y2="254.94" stroke="#484848" stroke-width="1"/>
<line x1="549.26" y1="257.36" x2="545.26" y2="257.36" stroke="#484848" stroke-width="1"/>
<line x1="549.26" y1="259.46" x2="545.26" y2="259.46" stroke="#484848" stroke-width="1"/>
<line x1="549.26" y1="261.32" x2="545.26" y2="261.32" stroke="#484848" stroke-width="1"/>
<line x1="549.26" y1="262.98" x2="541.26" y2="262.98" stroke="#484848" stroke-width="1"/>
<line x1="549.26" y1="273.88" x2="545.26" y2="273.88" stroke="#484848" stroke-width="1"/>
<line x1="549.26" y1="280.26" x2="545.26" y2="280.26" stroke="#484848" stroke-width="1"/>
<line x1="549.26" y1="284.78" x2="545.26" y2="284.78" stroke="#484848" stroke-width="1"/>
<line x1="549.26" y1="288.30" x2="545.26" y2="288.30" stroke="#484848" stroke-width="1"/>
<line x1="549.26" y1="291.16" x2="545.26" y2="291.16" stroke="#484848" stroke-width="1"/>
<line x1="549.26" y1="293.59" x2="545.26" y2="293.59" stroke="#484848" stroke-width="1"/>
<line x1="549.26" y1="295.69" x2="545.26" y2="295.69" stroke="#484848" stroke-width="1"/>
<line x1="549.26" y1="297.54" x2="545.26" y2="297.54" stroke="#484848" stroke-width="1"/>
<line x1="549.26" y1="299.20" x2="541.26" y2="299.20" stroke="#484848" stroke-width="1"/>
<rect x="52.6" y="9.4" width="496.66" height="289.80" fill="none" stroke="#484848" stroke-width="1.1"/>
<line x1="301.00" y1="9.40" x2="301.00" y2="299.20" stroke="#484848" stroke-width="1.1"/>
<text x="46.10" y="16.70" font-size="14" text-anchor="end" stroke="#000" stroke-width="0.22">10<tspan font-size="9" dx="0.8" dy="-6.8">-6</tspan></text>
<text x="46.10" y="89.50" font-size="14" text-anchor="end" stroke="#000" stroke-width="0.22">10<tspan font-size="9" dx="0.8" dy="-6.8">-4</tspan></text>
<text x="46.10" y="161.20" font-size="14" text-anchor="end" stroke="#000" stroke-width="0.22">10<tspan font-size="9" dx="0.8" dy="-6.8">-2</tspan></text>
<text x="46.10" y="232.80" font-size="14" text-anchor="end" stroke="#000" stroke-width="0.22">10<tspan font-size="9" dx="0.8" dy="-6.8">0</tspan></text>
<text x="46.10" y="304.30" font-size="14" text-anchor="end" stroke="#000" stroke-width="0.22">10<tspan font-size="9" dx="0.8" dy="-6.8">2</tspan></text>
<text x="551.40" y="15.70" font-size="14" text-anchor="start" stroke="#000" stroke-width="0.22">10<tspan font-size="9" dx="0.8" dy="-6.8">-6</tspan></text>
<text x="551.40" y="87.80" font-size="14" text-anchor="start" stroke="#000" stroke-width="0.22">10<tspan font-size="9" dx="0.8" dy="-6.8">-4</tspan></text>
<text x="551.40" y="162.60" font-size="14" text-anchor="start" stroke="#000" stroke-width="0.22">10<tspan font-size="9" dx="0.8" dy="-6.8">-2</tspan></text>
<text x="551.40" y="233.10" font-size="14" text-anchor="start" stroke="#000" stroke-width="0.22">10<tspan font-size="9" dx="0.8" dy="-6.8">0</tspan></text>
<text x="551.40" y="302.80" font-size="14" text-anchor="start" stroke="#000" stroke-width="0.22">10<tspan font-size="9" dx="0.8" dy="-6.8">2</tspan></text>
<text x="39.30" y="316.50" font-size="14" text-anchor="start" stroke="#000" stroke-width="0.22">10<tspan font-size="9" dx="0.8" dy="-6.8">-6</tspan></text>
<text x="117.60" y="316.50" font-size="14" text-anchor="start" stroke="#000" stroke-width="0.22">10<tspan font-size="9" dx="0.8" dy="-6.8">-4</tspan></text>
<text x="196.60" y="316.50" font-size="14" text-anchor="start" stroke="#000" stroke-width="0.22">10<tspan font-size="9" dx="0.8" dy="-6.8">-2</tspan></text>
<text x="276.90" y="316.50" font-size="14" text-anchor="start" stroke="#000" stroke-width="0.22">10<tspan font-size="9" dx="0.8" dy="-6.8">0</tspan></text>
<text x="300.30" y="316.50" font-size="14" text-anchor="start" stroke="#000" stroke-width="0.22">10<tspan font-size="9" dx="0.8" dy="-6.8">-6</tspan></text>
<text x="364.20" y="316.50" font-size="14" text-anchor="start" stroke="#000" stroke-width="0.22">10<tspan font-size="9" dx="0.8" dy="-6.8">-4</tspan></text>
<text x="443.60" y="316.50" font-size="14" text-anchor="start" stroke="#000" stroke-width="0.22">10<tspan font-size="9" dx="0.8" dy="-6.8">-2</tspan></text>
<text x="523.10" y="316.50" font-size="14" text-anchor="start" stroke="#000" stroke-width="0.22">10<tspan font-size="9" dx="0.8" dy="-6.8">0</tspan></text>
<text x="306.70" y="335.60" font-size="13.8" text-anchor="middle" stroke="#000" stroke-width="0.22">mole fraction</text>
<text x="11.00" y="152.80" font-size="13.8" text-anchor="middle" stroke="#000" stroke-width="0.22" transform="rotate(-90 11.00 152.80)">total pressure (bars)</text>
<text x="588.30" y="152.30" font-size="13.8" text-anchor="middle" stroke="#000" stroke-width="0.22" transform="rotate(90 588.30 152.30)">total pressure (bars)</text>
<text transform="translate(212.60 125.30) rotate(90) scale(1 0.92)" font-size="12" text-anchor="start" stroke="#000" stroke-width="0.22">HCl</text>
<text transform="translate(236.00 127.80) rotate(90) scale(1 0.92)" font-size="12" text-anchor="start" stroke="#000" stroke-width="0.22">SO<tspan font-size="8" dy="3.4">2</tspan></text>
<text transform="translate(262.10 135.00) rotate(90) scale(1 0.92)" font-size="12" text-anchor="start" stroke="#000" stroke-width="0.22">CO<tspan font-size="8" dy="3.4">2</tspan></text>
<text transform="translate(283.50 141.10) rotate(90) scale(1 0.92)" font-size="12" text-anchor="start" stroke="#000" stroke-width="0.22">H<tspan font-size="8" dy="3.4">2</tspan><tspan dy="-3.4">O</tspan></text>
<text transform="translate(205.60 167.60) rotate(90) scale(1 0.92)" font-size="12" text-anchor="start" stroke="#000" stroke-width="0.22">N<tspan font-size="8" dy="3.4">2</tspan></text>
<text transform="translate(92.10 108.60) rotate(90) scale(1 0.92)" font-size="12" text-anchor="start" stroke="#000" stroke-width="0.22">H<tspan font-size="8" dy="3.4">2</tspan><tspan dy="-3.4">S</tspan></text>
<text transform="translate(354.90 115.60) rotate(90) scale(1 0.92)" font-size="12" text-anchor="start" stroke="#000" stroke-width="0.22">CO</text>
<text transform="translate(389.60 117.60) rotate(90) scale(1 0.92)" font-size="12" text-anchor="start" stroke="#000" stroke-width="0.22">H<tspan font-size="8" dy="3.4">2</tspan><tspan dy="-3.4">S</tspan></text>
<text transform="translate(434.80 123.30) rotate(90) scale(1 0.92)" font-size="12" text-anchor="start" stroke="#000" stroke-width="0.22">HF</text>
<text transform="translate(424.90 161.20) rotate(90) scale(1 0.92)" font-size="12" text-anchor="start" stroke="#000" stroke-width="0.22">N<tspan font-size="8" dy="3.4">2</tspan></text>
<text transform="translate(449.80 202.90) rotate(90) scale(1 0.92)" font-size="12" text-anchor="start" stroke="#000" stroke-width="0.22">HCl</text>
<text transform="translate(475.00 159.00) rotate(90) scale(1 0.92)" font-size="12" text-anchor="start" stroke="#000" stroke-width="0.22">H<tspan font-size="8" dy="3.4">2</tspan></text>
<text transform="translate(512.10 167.60) rotate(90) scale(1 0.92)" font-size="12" text-anchor="start" stroke="#000" stroke-width="0.22">CO<tspan font-size="8" dy="3.4">2</tspan></text>
<text transform="translate(522.30 130.40) rotate(90) scale(1 0.92)" font-size="12" text-anchor="start" stroke="#000" stroke-width="0.22">H<tspan font-size="8" dy="3.4">2</tspan><tspan dy="-3.4">O</tspan></text>
<text transform="translate(91.20 184.90) rotate(0) scale(1 0.92)" font-size="12" text-anchor="start" stroke="#000" stroke-width="0.22">CO</text>
<text transform="translate(106.50 195.80) rotate(0) scale(1 0.92)" font-size="12" text-anchor="start" stroke="#000" stroke-width="0.22">H<tspan font-size="8" dy="3.4">2</tspan></text>
<text transform="translate(137.20 238.90) rotate(0) scale(1 0.92)" font-size="12" text-anchor="start" stroke="#000" stroke-width="0.22">Na<tspan font-size="8" dy="3.4">2</tspan><tspan dy="-3.4">Cl</tspan><tspan font-size="8" dy="3.4">2</tspan></text>
<text transform="translate(138.40 252.30) rotate(0) scale(1 0.92)" font-size="12" text-anchor="start" stroke="#000" stroke-width="0.22">K<tspan font-size="8" dy="3.4">2</tspan><tspan dy="-3.4">Cl</tspan><tspan font-size="8" dy="3.4">2</tspan></text>
<text transform="translate(54.00 238.10) rotate(43) scale(1 0.92)" font-size="12" text-anchor="start" stroke="#000" stroke-width="0.22">H<tspan font-size="8" dy="3.4">2</tspan><tspan dy="-3.4">F</tspan><tspan font-size="8" dy="3.4">2</tspan></text>
<text transform="translate(63.30 278.30) rotate(42) scale(1 0.92)" font-size="12" text-anchor="start" stroke="#000" stroke-width="0.22">SO<tspan font-size="8" dy="3.4">3</tspan></text>
<text transform="translate(110.90 268.60) rotate(70) scale(1 0.92)" font-size="12" text-anchor="start" stroke="#000" stroke-width="0.22">NaCl</text>
<text transform="translate(128.60 261.60) rotate(78) scale(1 0.92)" font-size="12" text-anchor="start" stroke="#000" stroke-width="0.22">KCl</text>
<text transform="translate(318.20 244.50) rotate(46) scale(1 0.92)" font-size="12" text-anchor="start" stroke="#000" stroke-width="0.22">Na<tspan font-size="8" dy="3.4">2</tspan><tspan dy="-3.4">Cl</tspan><tspan font-size="8" dy="3.4">2</tspan></text>
<text transform="translate(319.00 274.00) rotate(66) scale(1 0.92)" font-size="12" text-anchor="start" stroke="#000" stroke-width="0.22">SO<tspan font-size="8" dy="3.4">2</tspan></text>
<text transform="translate(355.40 263.60) rotate(75) scale(1 0.92)" font-size="12" text-anchor="start" stroke="#000" stroke-width="0.22">K<tspan font-size="8" dy="3.4">2</tspan><tspan dy="-3.4">Cl</tspan><tspan font-size="8" dy="3.4">2</tspan></text>
<text transform="translate(357.60 241.00) rotate(56) scale(1 0.92)" font-size="12" text-anchor="start" stroke="#000" stroke-width="0.22">NaCl</text>
<text transform="translate(388.00 268.00) rotate(80) scale(1 0.92)" font-size="12" text-anchor="start" stroke="#000" stroke-width="0.22">KCl</text>
</svg></body></html>
